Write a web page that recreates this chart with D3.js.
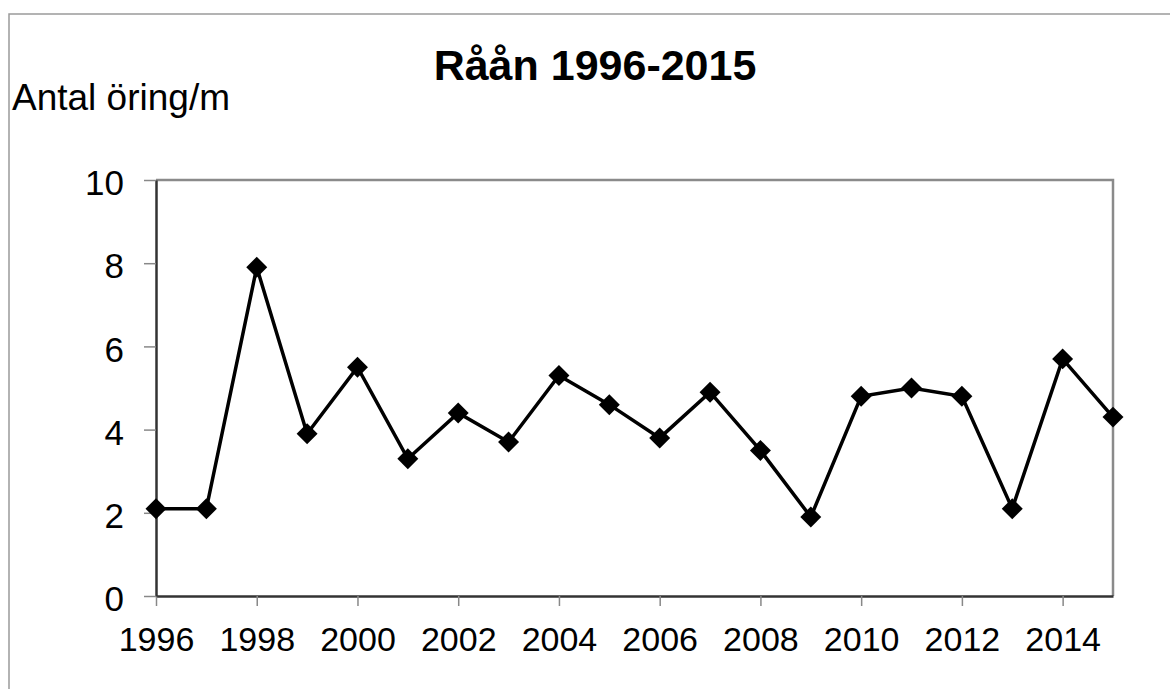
<!DOCTYPE html>
<html>
<head>
<meta charset="utf-8">
<script src="https://cdn.jsdelivr.net/npm/d3@7"></script>
<style>
  html, body { margin: 0; padding: 0; background: #fff; }
  svg { display: block; font-family: "Liberation Sans", Arial, sans-serif; }
</style>
</head>
<body>
<div id="chart"></div>
<script>
// Data
const years = [1996, 1997, 1998, 1999, 2000, 2001, 2002, 2003, 2004, 2005,
               2006, 2007, 2008, 2009, 2010, 2011, 2012, 2013, 2014, 2015];
const trout = [2.1, 2.1, 7.9, 3.9, 5.5, 3.3, 4.4, 3.7, 5.3, 4.6,
               3.8, 4.9, 3.5, 1.9, 4.8, 5.0, 4.8, 2.1, 5.7, 4.3];
const yTicks = [0, 2, 4, 6, 8, 10];
const xTicks = [1996, 1998, 2000, 2002, 2004, 2006, 2008, 2010, 2012, 2014];
const title = "Råån 1996-2015";
const yLabel = "Antal öring/m";

const width = 1170, height = 689;
const margin = { top: 180, right: 57, bottom: 93, left: 156 };
const w = width - margin.left - margin.right;
const h = height - margin.top - margin.bottom;

const svg = d3.select("#chart")
    .append("svg")
    .attr("width", width)
    .attr("height", height);

// Outer frame (runs past the right and bottom of the picture)
svg.append("rect")
    .attr("x", 9).attr("y", 14)
    .attr("width", width + 20).attr("height", height + 20)
    .attr("fill", "none")
    .attr("stroke", "#9a9a9a")
    .attr("stroke-width", 1.5);

svg.append("text")
    .attr("x", 595).attr("y", 80)
    .attr("text-anchor", "middle")
    .attr("font-size", 43)
    .attr("font-weight", "bold")
    .text(title);

svg.append("text")
    .attr("x", 12).attr("y", 110)
    .attr("font-size", 37)
    .text(yLabel);

const g = svg.append("g")
    .attr("transform", `translate(${margin.left},${margin.top})`);

const x = d3.scaleLinear().domain([1996, 2015]).range([0, w]);
const y = d3.scaleLinear().domain([0, 10]).range([h, 0]);

// Plot frame: grey top and right
g.append("path")
    .attr("d", `M0,0H${w}V${h}`)
    .attr("fill", "none")
    .attr("stroke", "#8a8a8a")
    .attr("stroke-width", 2.5);

// X axis
const xAxis = g.append("g")
    .attr("transform", `translate(0,${h})`)
    .call(d3.axisBottom(x).tickValues(xTicks).tickFormat(d3.format("d"))
        .tickSize(10).tickSizeOuter(0).tickPadding(21));
xAxis.select(".domain").attr("stroke", "#333").attr("stroke-width", 2.5);
xAxis.selectAll(".tick line").attr("stroke", "#888").attr("stroke-width", 1.5);
xAxis.selectAll(".tick text")
    .attr("font-size", 34)
    .attr("font-family", "Liberation Sans, Arial, sans-serif")
    .attr("fill", "#000");

// Y axis
const yAxis = g.append("g")
    .call(d3.axisLeft(y).tickValues(yTicks)
        .tickSize(12).tickSizeOuter(0).tickPadding(20));
yAxis.select(".domain").attr("stroke", "#333").attr("stroke-width", 2.5);
yAxis.selectAll(".tick line").attr("stroke", "#888").attr("stroke-width", 1.5);
yAxis.selectAll(".tick text")
    .attr("font-size", 35)
    .attr("dy", "0.42em")
    .attr("font-family", "Liberation Sans, Arial, sans-serif")
    .attr("fill", "#000");

// Line
const data = years.map((yr, i) => ({ year: yr, value: trout[i] }));
g.append("path")
    .datum(data)
    .attr("fill", "none")
    .attr("stroke", "#000")
    .attr("stroke-width", 3.5)
    .attr("d", d3.line().x(d => x(d.year)).y(d => y(d.value)));

// Diamond markers
g.append("g")
    .selectAll("path")
    .data(data)
    .enter()
    .append("path")
    .attr("d", d3.symbol(d3.symbolSquare, 220))
    .attr("transform", d => `translate(${x(d.year)},${y(d.value)}) rotate(45)`)
    .attr("fill", "#000");
</script>
</body>
</html>
